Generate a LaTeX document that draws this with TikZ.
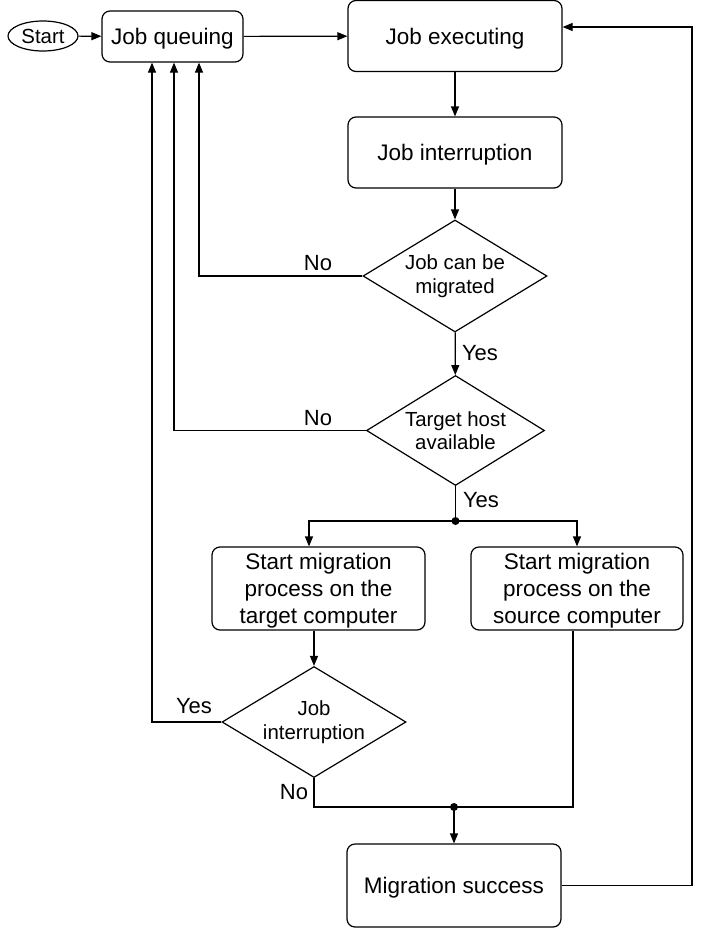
\documentclass[tikz,border=0pt]{standalone}
\usepackage{fontspec}
\setmainfont{Liberation Sans}
\usetikzlibrary{shapes.geometric,arrows.meta}
% lower a label a little without changing its box
\newcommand{\lowtext}[1]{\raisebox{-2.5pt}[\height][\depth]{#1}}
\newcommand{\lowlines}[1]{\raisebox{-2.5pt}[\height][\depth]{\begin{tabular}{@{}c@{}}#1\end{tabular}}}
\begin{document}
\begin{tikzpicture}[x=1pt,y=-1pt,
  line width=1.2pt,
  arr/.style={-{Triangle[length=10pt,width=8pt]}},
  procbox/.style={draw,rounded corners=8pt,align=center,inner sep=0pt,
    font=\fontsize{22.5}{27}\selectfont},
  decision/.style={draw,diamond,align=center,inner sep=0pt,aspect=1.64,
    font=\fontsize{20.4}{23.5}\selectfont},
  lbl/.style={inner sep=0pt,font=\fontsize{22}{26}\selectfont},
  junction/.style={circle,fill,inner sep=0pt,minimum size=8pt}]
\useasboundingbox (0,0) rectangle (705,930);

% process boxes
\node[draw,ellipse,inner sep=0pt,minimum width=70pt,minimum height=30pt,
  font=\fontsize{20.4}{24}\selectfont] (start) at (43,36) {Start};
\node[procbox,minimum width=141pt,minimum height=51pt] (queue) at (172.5,36.5) {\lowtext{Job queuing}};
\node[procbox,minimum width=214pt,minimum height=71pt] (exec) at (455,36) {\lowtext{Job executing}};
\node[procbox,minimum width=214pt,minimum height=71pt] (intr) at (455,152.5) {\lowtext{Job interruption}};
\node[procbox,minimum width=213pt,minimum height=83pt] (tgt) at (318.5,588.5)
  {\lowlines{Start migration\\process on the\\target computer}};
\node[procbox,minimum width=212pt,minimum height=83pt] (src) at (577,588.5)
  {\lowlines{Start migration\\process on the\\source computer}};
\node[procbox,minimum width=214pt,minimum height=83pt] (done) at (454,885.5) {\lowtext{Migration success}};

% decisions
\node[decision,minimum width=184pt,minimum height=112pt] (canmig) at (455,276) {Job can be\\migrated};
\node[decision,minimum width=178pt,minimum height=110pt] (avail) at (455.5,430.5) {Target host\\available};
\node[decision,minimum width=184pt,minimum height=111pt] (intr2) at (314,722) {Job\\interruption};

% junction points
\node[junction] (j1) at (455.5,521) {};
\node[junction] (j2) at (454,807) {};
\coordinate (ret) at (692,27);

% main flow
\draw[arr] (start) -- (queue);
\draw[arr] (queue) -- (exec);
\draw[arr] (exec) -- (intr);
\draw[arr] (intr) -- (canmig);
\draw[arr] (canmig) -- (avail);
\draw (avail.south) -- (j1.center);
\draw[arr] (j1.center) -| ([xshift=-9.5pt]tgt.north);
\draw[arr] (j1.center) -| (src.north);
\draw[arr] ([xshift=-4.5pt]tgt.south) -- (intr2.north);
\draw (intr2.south) |- (j2.center);
\draw ([xshift=-4pt]src.south) |- (j2.center);
\draw[arr] (j2.center) -- (done.north);
\draw[arr] (done.east) -| (ret) -- (ret -| exec.east);

% returns to the queue
\draw[arr] (canmig.west) -| ([xshift=26.5pt]queue.south);
\draw[arr] (avail.west) -| ([xshift=1.5pt]queue.south);
\draw[arr] (intr2.west) -| ([xshift=-20.5pt]queue.south);

% branch labels
\node[lbl] (no1) at (318,263) {No};
\node[lbl] (no2) at (318,418) {No};
\node[lbl] (yes1) at (480,353) {Yes};
\node[lbl] (yes2) at (481,500) {Yes};
\node[lbl] (yes3) at (194,706) {Yes};
\node[lbl] (no3) at (294,792) {No};
\end{tikzpicture}
\end{document}
